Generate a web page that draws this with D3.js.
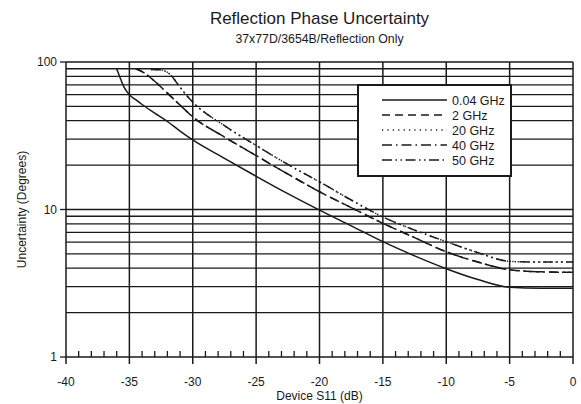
<!DOCTYPE html>
<html>
<head>
<meta charset="utf-8">
<script src="https://cdn.jsdelivr.net/npm/d3@7"></script>
<style>
  html, body { margin: 0; padding: 0; background: #fff; }
  svg { display: block; font-family: "Liberation Sans", Arial, Helvetica, sans-serif; }
</style>
</head>
<body>
<svg id="chart" width="581" height="404"></svg>
<script>
// ---------- data ----------
const title = "Reflection Phase Uncertainty";
const subtitle = "37x77D/3654B/Reflection Only";
const xLabel = "Device S11 (dB)";
const yLabel = "Uncertainty (Degrees)";

const xTicks = [-40, -35, -30, -25, -20, -15, -10, -5, 0];
const xMinorTicks = [-39,-38,-37,-36,-34,-33,-32,-31,-29,-28,-27,-26,-24,-23,-22,-21,-19,-18,-17,-16,-14,-13,-12,-11,-9,-8,-7,-6,-4,-3,-2,-1];
const yTicks = [1, 10, 100];
const yGrid = [2,3,4,5,6,7,8,9,10,20,30,40,50,60,70,80,90,100];

const seriesNames = ["0.04 GHz", "2 GHz", "20 GHz", "40 GHz", "50 GHz"];

const s004 = [[-36.0,90],[-35.7,77],[-35.4,67],[-35,60],[-34.5,55.5],[-34,51.5],[-33,45],[-32,39.5],[-31,34],[-30,29.6],[-27.5,22.2],[-25,16.8],[-22.5,12.8],[-20,9.9],[-17.5,7.75],[-15,6.05],[-12.5,4.85],[-10,3.97],[-7.5,3.35],[-5,2.97],[-2.5,2.92],[0,2.92]];
const s2 = [[-34.5,90],[-34,86],[-33,74],[-32,61.5],[-31,51],[-30,42.5],[-27.5,31],[-25,23.2],[-22.5,17.4],[-20,13.2],[-17.5,10.3],[-15,8.06],[-12.5,6.45],[-10,5.17],[-7.5,4.4],[-5,3.9],[-2.5,3.78],[0,3.75]];
const s20 = [[-33.3,89],[-32.6,88.5],[-32.1,86],[-31.7,81],[-31.3,73],[-30.6,61],[-30,53.5],[-27.5,37],[-25,27.2],[-22.5,20.2],[-20,15.4],[-17.5,11.6],[-15,8.9],[-12.5,7.25],[-10,6.05],[-7.5,5.1],[-5,4.45],[-2.5,4.4],[0,4.4]];
const s40 = [[-34.5,90],[-34,86],[-33,74],[-32,61.5],[-31,51],[-30,42.5],[-27.5,31],[-25,23.2],[-22.5,17.4],[-20,13.2],[-17.5,10.3],[-15,8.06],[-12.5,6.45],[-10,5.17],[-7.5,4.4],[-5,3.9],[-2.5,3.78],[0,3.75]];
const s50 = [[-33.3,89],[-32.6,88.5],[-32.1,86],[-31.7,81],[-31.3,73],[-30.6,61],[-30,53.5],[-27.5,37],[-25,27.2],[-22.5,20.2],[-20,15.4],[-17.5,11.6],[-15,8.9],[-12.5,7.25],[-10,6.05],[-7.5,5.1],[-5,4.45],[-2.5,4.4],[0,4.4]];

const seriesData = [s004, s2, s20, s40, s50];
const dashes = [null, "8,5", "1.2,4.2", "10,4,1.5,4", "10,3.5,1.5,3.5,1.5,3.5"];

// ---------- layout ----------
const svg = d3.select("#chart");
const L = 66, R = 573, T = 62, B = 357;
const x = d3.scaleLinear().domain([-40, 0]).range([L, R]);
const y = d3.scaleLog().domain([1, 100]).range([B, T]);
const ink = "#1a1a1a";

// titles
svg.append("text").attr("x", (L + R) / 2).attr("y", 24).attr("text-anchor", "middle")
  .attr("font-size", 17).attr("fill", ink).text(title);
svg.append("text").attr("x", (L + R) / 2).attr("y", 43).attr("text-anchor", "middle")
  .attr("font-size", 12.3).attr("fill", ink).text(subtitle);

// horizontal grid
svg.append("g").selectAll("line").data(yGrid).join("line")
  .attr("x1", L).attr("x2", R)
  .attr("y1", d => y(d)).attr("y2", d => y(d))
  .attr("stroke", ink).attr("stroke-width", 1.3);

// vertical grid (major)
svg.append("g").selectAll("line").data(xTicks).join("line")
  .attr("x1", d => x(d)).attr("x2", d => x(d))
  .attr("y1", T).attr("y2", B + 7)
  .attr("stroke", ink).attr("stroke-width", 1.5);

// bottom axis line
svg.append("line").attr("x1", L).attr("x2", R).attr("y1", B).attr("y2", B)
  .attr("stroke", ink).attr("stroke-width", 1.5);

// minor ticks on bottom
svg.append("g").selectAll("line").data(xMinorTicks).join("line")
  .attr("x1", d => x(d)).attr("x2", d => x(d))
  .attr("y1", B).attr("y2", B - 6)
  .attr("stroke", ink).attr("stroke-width", 1.3);

// y ticks outside
svg.append("g").selectAll("line").data(yTicks).join("line")
  .attr("x1", L - 6).attr("x2", L)
  .attr("y1", d => y(d)).attr("y2", d => y(d))
  .attr("stroke", ink).attr("stroke-width", 1.3);

// tick labels
svg.append("g").selectAll("text").data(xTicks).join("text")
  .attr("x", d => x(d)).attr("y", B + 29).attr("text-anchor", "middle")
  .attr("font-size", 12).attr("fill", ink).text(d => d);
svg.append("g").selectAll("text").data(yTicks).join("text")
  .attr("x", L - 9).attr("y", d => y(d) + 4).attr("text-anchor", "end")
  .attr("font-size", 12).attr("fill", ink).text(d => d);

// axis titles
svg.append("text").attr("x", (L + R) / 2).attr("y", 400).attr("text-anchor", "middle")
  .attr("font-size", 12).attr("fill", ink).text(xLabel);
svg.append("text").attr("transform", `translate(26,${(T + B) / 2}) rotate(-90)`)
  .attr("text-anchor", "middle").attr("font-size", 12).attr("fill", ink).text(yLabel);

// curves
const line = d3.line().x(d => x(d[0])).y(d => y(d[1])).curve(d3.curveMonotoneX);
const order = [0, 1, 3, 2, 4];
svg.append("g").selectAll("path").data(order).join("path")
  .attr("d", i => line(seriesData[i]))
  .attr("fill", "none").attr("stroke", ink).attr("stroke-width", 1.5)
  .attr("stroke-dasharray", i => dashes[i]);

// legend
const lg = svg.append("g");
lg.append("rect").attr("x", 358).attr("y", 85).attr("width", 153).attr("height", 91)
  .attr("fill", "#fff").attr("stroke", ink).attr("stroke-width", 2);
const rowY = i => 100 + i * 15;
lg.selectAll("line.k").data(seriesNames).join("line").attr("class", "k")
  .attr("x1", 382).attr("x2", 447)
  .attr("y1", (d, i) => rowY(i)).attr("y2", (d, i) => rowY(i))
  .attr("stroke", ink).attr("stroke-width", 1.5)
  .attr("stroke-dasharray", (d, i) => dashes[i]);
lg.selectAll("text").data(seriesNames).join("text")
  .attr("x", 452).attr("y", (d, i) => rowY(i) + 4.5)
  .attr("font-size", 12.5).attr("fill", ink).text(d => d);
</script>
</body>
</html>
